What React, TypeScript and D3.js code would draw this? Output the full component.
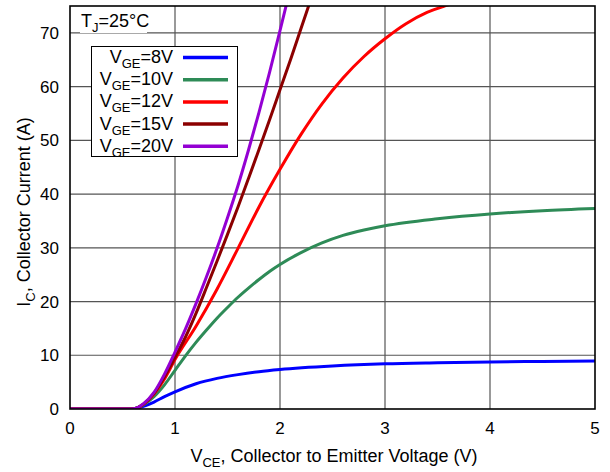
import React, { useEffect, useRef } from "react";
import * as d3 from "d3";

// axis ticks
const vceTicks = [0, 1, 2, 3, 4, 5];
const icTicks = [0, 10, 20, 30, 40, 50, 60, 70];

// VGE = 8V
const vce8 = [0, 0.55, 0.62, 0.7, 0.8, 0.9, 1.0, 1.2, 1.4, 1.6, 1.8, 2.0, 2.5, 3.0, 3.5, 4.0, 4.5, 5.0];
const ic8 = [0, 0, 0.1, 0.5, 1.3, 2.3, 3.2, 4.7, 5.7, 6.4, 6.95, 7.35, 8.0, 8.4, 8.6, 8.75, 8.85, 8.95];

// VGE = 10V
const vce10 = [0, 0.55, 0.62, 0.7, 0.8, 0.9, 1.0, 1.1, 1.2, 1.3, 1.4, 1.5, 1.6, 1.7, 1.8, 1.9, 2.0, 2.2, 2.4, 2.6, 2.8, 3.0, 3.5, 4.0, 4.5, 5.0];
const ic10 = [0, 0, 0.1, 0.8, 2.3, 4.5, 7.2, 9.9, 12.4, 14.7, 16.9, 18.9, 20.8, 22.5, 24.1, 25.6, 26.9, 29.1, 30.9, 32.3, 33.3, 34.1, 35.4, 36.3, 36.9, 37.3];

// VGE = 12V
const vce12 = [0, 0.55, 0.62, 0.7, 0.8, 0.9, 1.0, 1.2, 1.4, 1.6, 1.8, 2.0, 2.2, 2.4, 2.6, 2.8, 3.0, 3.2, 3.4, 3.6, 3.8];
const ic12 = [0, 0, 0.1, 0.9, 2.8, 5.6, 9.2, 15.4, 22.3, 29.9, 37.6, 44.6, 51.1, 56.8, 61.6, 65.6, 68.9, 71.7, 73.8, 75.2, 76.4];

// VGE = 15V
const vce15 = [0, 0.55, 0.62, 0.7, 0.8, 0.9, 1.0, 1.1, 1.2, 1.3, 1.4, 1.5, 1.6, 1.7, 1.8, 1.9, 2.0, 2.1, 2.2, 2.3];
const ic15 = [0, 0, 0.1, 0.9, 2.9, 6.0, 9.6, 13.4, 17.8, 22.6, 27.5, 32.5, 37.6, 42.9, 48.3, 53.8, 59.4, 65.0, 70.8, 76.6];

// VGE = 20V
const vce20 = [0, 0.55, 0.62, 0.7, 0.8, 0.9, 1.0, 1.1, 1.2, 1.3, 1.4, 1.5, 1.6, 1.7, 1.8, 1.9, 2.0, 2.1];
const ic20 = [0, 0, 0.1, 1.0, 3.1, 6.5, 10.6, 14.9, 19.6, 24.6, 29.9, 35.6, 41.6, 48.2, 55.2, 62.6, 70.4, 78.4];

const vgeLabels = ["8V", "10V", "12V", "15V", "20V"];
const vgeColors = ["#0000ff", "#2e8b57", "#ff0000", "#8b0000", "#9400d3"];
const vceSets = [vce8, vce10, vce12, vce15, vce20];
const icSets = [ic8, ic10, ic12, ic15, ic20];

const OutputChart: React.FC = () => {
  const svgRef = useRef<SVGSVGElement | null>(null);

  useEffect(() => {
    const width = 610;
    const height = 472;
    const marginTop = 6;
    const marginRight = 15;
    const marginBottom = 63;
    const marginLeft = 70;
    const font = "'Liberation Sans', Arial, sans-serif";

    const svg = d3.select(svgRef.current);
    svg.selectAll("*").remove();
    svg.attr("width", width).attr("height", height).attr("viewBox", [0, 0, width, height]);

    const x = d3.scaleLinear().domain([0, 5]).range([marginLeft, width - marginRight]);
    const y = d3.scaleLinear().domain([0, 75]).range([height - marginBottom, marginTop]);

    svg.append("rect").attr("width", width).attr("height", height).attr("fill", "white");

    // grid
    const grid = svg.append("g").attr("stroke", "#555").attr("stroke-width", 1.2);
    grid
      .selectAll("line.v")
      .data(vceTicks.slice(1, -1))
      .enter()
      .append("line")
      .attr("x1", (d) => x(d))
      .attr("x2", (d) => x(d))
      .attr("y1", y(75))
      .attr("y2", y(0));
    grid
      .selectAll("line.h")
      .data(icTicks.slice(1))
      .enter()
      .append("line")
      .attr("x1", x(0))
      .attr("x2", x(5))
      .attr("y1", (d) => y(d))
      .attr("y2", (d) => y(d));

    // TJ label with white box
    svg.append("rect").attr("x", 80).attr("y", 8).attr("width", 67).attr("height", 25).attr("fill", "white");
    const tj = svg
      .append("text")
      .attr("x", 81)
      .attr("y", 27)
      .attr("font-family", font)
      .attr("font-size", 18);
    tj.append("tspan").text("T");
    tj.append("tspan").attr("font-size", 13).attr("dy", 5).text("J");
    tj.append("tspan").attr("dy", -5).text("=25°C");

    // curves
    svg
      .append("clipPath")
      .attr("id", "plotClip")
      .append("rect")
      .attr("x", x(0))
      .attr("y", y(75))
      .attr("width", x(5) - x(0))
      .attr("height", y(0) - y(75));

    const line = d3
      .line<[number, number]>()
      .x((d) => x(d[0]))
      .y((d) => y(d[1]))
      .curve(d3.curveMonotoneX);

    const curves = svg.append("g").attr("clip-path", "url(#plotClip)");
    vceSets.forEach((vce, i) => {
      const pts = vce.map((v, j) => [v, icSets[i][j]] as [number, number]);
      curves
        .append("path")
        .attr("d", line(pts))
        .attr("fill", "none")
        .attr("stroke", vgeColors[i])
        .attr("stroke-width", 3)
        .attr("stroke-linejoin", "round");
    });

    // frame
    svg
      .append("rect")
      .attr("x", x(0))
      .attr("y", y(75))
      .attr("width", x(5) - x(0))
      .attr("height", y(0) - y(75))
      .attr("fill", "none")
      .attr("stroke", "black")
      .attr("stroke-width", 1.6);

    // legend
    const legend = svg.append("g");
    legend
      .append("rect")
      .attr("x", 91.5)
      .attr("y", 46.5)
      .attr("width", 146)
      .attr("height", 110)
      .attr("fill", "white")
      .attr("stroke", "black")
      .attr("stroke-width", 1);
    vgeLabels.forEach((lab, i) => {
      const ly = 57.5 + i * 22.2;
      legend
        .append("line")
        .attr("x1", 183)
        .attr("x2", 228)
        .attr("y1", ly)
        .attr("y2", ly)
        .attr("stroke", vgeColors[i])
        .attr("stroke-width", 3.5);
      const t = legend
        .append("text")
        .attr("x", 173)
        .attr("y", ly + 5.5)
        .attr("text-anchor", "end")
        .attr("font-family", font)
        .attr("font-size", 18);
      t.append("tspan").text("V");
      t.append("tspan").attr("font-size", 13).attr("dy", 5).text("GE");
      t.append("tspan").attr("dy", -5).text("=" + lab);
    });

    // tick labels
    svg
      .append("g")
      .selectAll("text")
      .data(vceTicks)
      .enter()
      .append("text")
      .attr("x", (d) => x(d))
      .attr("y", 434)
      .attr("text-anchor", "middle")
      .attr("font-family", font)
      .attr("font-size", 17)
      .text((d) => d);
    svg
      .append("g")
      .selectAll("text")
      .data(icTicks)
      .enter()
      .append("text")
      .attr("x", 59)
      .attr("y", (d) => y(d) + 6)
      .attr("text-anchor", "end")
      .attr("font-family", font)
      .attr("font-size", 17)
      .text((d) => d);

    // axis titles
    const xt = svg
      .append("text")
      .attr("x", 334)
      .attr("y", 462)
      .attr("text-anchor", "middle")
      .attr("font-family", font)
      .attr("font-size", 18);
    xt.append("tspan").text("V");
    xt.append("tspan").attr("font-size", 13).attr("dy", 5).text("CE");
    xt.append("tspan").attr("dy", -5).text(", Collector to Emitter Voltage (V)");

    const yt = svg
      .append("text")
      .attr("transform", "translate(30,212) rotate(-90)")
      .attr("text-anchor", "middle")
      .attr("font-family", font)
      .attr("font-size", 18);
    yt.append("tspan").text("I");
    yt.append("tspan").attr("font-size", 13).attr("dy", 5).text("C");
    yt.append("tspan").attr("dy", -5).text(", Collector Current (A)");
  }, []);

  return (
    <div style={{ position: "absolute", left: 0, top: 0 }}>
      <svg ref={svgRef}></svg>
    </div>
  );
};

export default function App() {
  return <OutputChart />;
}
